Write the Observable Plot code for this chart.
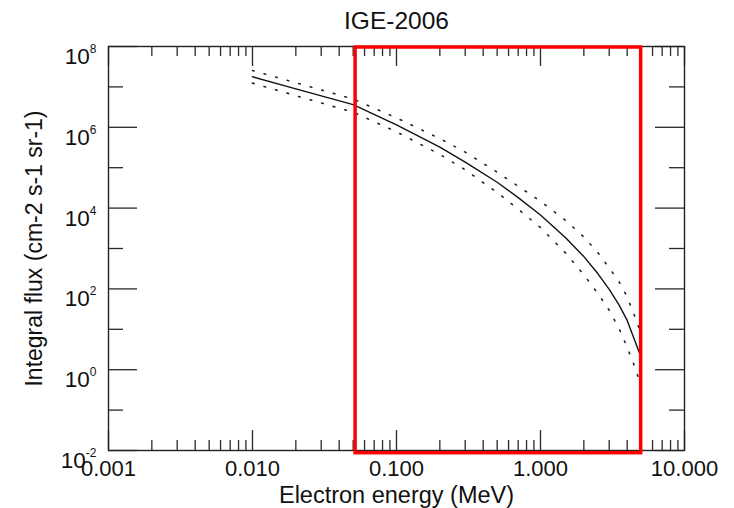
<!DOCTYPE html>
<html>
<head>
<meta charset="utf-8">
<script src="https://cdn.jsdelivr.net/npm/d3@7"></script>
<script src="https://cdn.jsdelivr.net/npm/@observablehq/plot@0.6"></script>
<style>
  html, body { margin: 0; padding: 0; background: #fff; }
  #chart { width: 734px; height: 508px; }
</style>
</head>
<body>
<div id="chart"></div>
<script>
// ---- Text ----
const chartTitle = "IGE-2006";
const xLabel = "Electron energy (MeV)";
const yLabel = "Integral flux (cm-2 s-1 sr-1)";

// ---- Data ----
const energyMean = [0.01, 0.02, 0.05, 0.1, 0.2, 0.3, 0.5, 0.7, 1, 1.5, 2, 2.5, 3, 3.5, 4, 5];
const fluxMean   = [1.78e7, 8.91e6, 3.63e6, 1.15e6, 3.24e5, 1.38e5, 4.37e4, 1.82e4, 6.76e3, 1.82e3, 631, 240, 97.7, 40.7, 16.6, 2.0];

const energyBand = [0.01, 0.02, 0.05, 0.1, 0.2, 0.3, 0.5, 0.7, 1, 1.5, 2, 2.5, 3, 3.5, 4, 4.5, 5];
const fluxUpper  = [2.55e7, 1.27e7, 5.01e6, 1.71e6, 5.25e5, 2.43e5, 7.74e4, 3.48e4, 1.48e4, 4.90e3, 1.93e3, 794, 332, 155, 63.1, 21.6, 7.6];
const fluxLower  = [1.24e7, 6.07e6, 2.37e6, 7.73e5, 2.13e5, 8.89e4, 2.42e4, 9.46e3, 3.29e3, 762, 224, 77.6, 29.6, 10.7, 3.57, 1.21, 0.40];

// ---- Axes ----
const xTickValues = [0.001, 0.01, 0.1, 1, 10];
const xTickLabels = ["0.001", "0.010", "0.100", "1.000", "10.000"];
const xMinorTicks = [
  0.002, 0.003, 0.004, 0.005, 0.006, 0.007, 0.008, 0.009,
  0.02, 0.03, 0.04, 0.05, 0.06, 0.07, 0.08, 0.09,
  0.2, 0.3, 0.4, 0.5, 0.6, 0.7, 0.8, 0.9,
  2, 3, 4, 5, 6, 7, 8, 9
];
const yMajorTicks = [1e-2, 1e0, 1e2, 1e4, 1e6, 1e8];
const yExponents  = ["-2", "0", "2", "4", "6", "8"];
const yMinorTicks = [1e-1, 1e1, 1e3, 1e5, 1e7];

// ---- Highlight box ----
const boxEnergy = [0.052, 5];
const boxFlux = [1e-2, 1e8];

// ---- Build ----
const W = 734, H = 508, mt = 46, mb = 58, ml = 108, mr = 50;
const ph = H - mt - mb, pw = W - ml - mr;

const meanData = energyMean.map((e, i) => ({e, f: fluxMean[i]}));
const bandData = energyBand.map((e, i) => ({e, hi: fluxUpper[i], lo: fluxLower[i]}));
const boxData = [{x1: boxEnergy[0], x2: boxEnergy[1], y1: boxFlux[0], y2: boxFlux[1]}];

const tickColor = "#2a2a2a";
const font = "'Liberation Sans', Arial, Helvetica, sans-serif";

const plot = Plot.plot({
  width: W, height: H,
  marginTop: mt, marginBottom: mb, marginLeft: ml, marginRight: mr,
  style: {fontFamily: font, fontSize: "22px", color: "#111", background: "#fff", overflow: "visible"},
  x: {type: "log", domain: [0.001, 10]},
  y: {type: "log", domain: [1e-2, 1e8]},
  marks: [
    Plot.axisX({ticks: xTickValues, tickFormat: d => xTickLabels[xTickValues.indexOf(d)], tickSize: 0, tickPadding: 10, label: null, fontSize: 22, fill: "#111"}),
    Plot.axisY({ticks: yMajorTicks, tickFormat: d => "10^" + yExponents[yMajorTicks.indexOf(d)], tickSize: 0, tickPadding: 12, label: null, fontSize: 22.5, fill: "#111"}),
    // inward ticks, bottom/top
    Plot.ruleX(xTickValues, {insetTop: ph - 20, stroke: tickColor, strokeWidth: 1.3}),
    Plot.ruleX(xTickValues, {insetBottom: ph - 20, stroke: tickColor, strokeWidth: 1.3}),
    Plot.ruleX(xMinorTicks, {insetTop: ph - 10, stroke: tickColor, strokeWidth: 1.3}),
    Plot.ruleX(xMinorTicks, {insetBottom: ph - 10, stroke: tickColor, strokeWidth: 1.3}),
    // inward ticks, left/right
    Plot.ruleY(yMajorTicks, {insetRight: pw - 29, stroke: tickColor, strokeWidth: 1.3}),
    Plot.ruleY(yMajorTicks, {insetLeft: pw - 29, stroke: tickColor, strokeWidth: 1.3}),
    Plot.ruleY(yMinorTicks, {insetRight: pw - 15, stroke: tickColor, strokeWidth: 1.3}),
    Plot.ruleY(yMinorTicks, {insetLeft: pw - 15, stroke: tickColor, strokeWidth: 1.3}),
    Plot.frame({stroke: "#222", strokeWidth: 1.4}),
    // curves
    Plot.line(bandData, {x: "e", y: "hi", stroke: "#222", strokeWidth: 1.6, strokeDasharray: "1.6 10.4"}),
    Plot.line(bandData, {x: "e", y: "lo", stroke: "#222", strokeWidth: 1.6, strokeDasharray: "1.6 10.4"}),
    Plot.line(meanData, {x: "e", y: "f", stroke: "#111", strokeWidth: 1.4}),
    // highlight box
    Plot.rect(boxData, {x1: "x1", x2: "x2", y1: "y1", y2: "y2", fill: "none", stroke: "#ff0000", strokeWidth: 3.5, insetTop: 1, insetBottom: -2.7}),
    // titles
    Plot.text([chartTitle], {text: d => d, frameAnchor: "top", textAnchor: "middle", dy: -17.7, lineAnchor: "bottom", fontSize: 24.5, fill: "#111"}),
    Plot.text([xLabel], {text: d => d, frameAnchor: "bottom", textAnchor: "middle", dy: 52.5, lineAnchor: "bottom", fontSize: 23.5, fill: "#111"}),
    Plot.text([yLabel], {text: d => d, frameAnchor: "left", textAnchor: "middle", dx: -66.3, rotate: -90, lineAnchor: "bottom", fontSize: 23, fill: "#111"})
  ]
});

// superscript exponents on the y-axis tick labels
plot.querySelectorAll('[aria-label="y-axis tick label"] text').forEach(t => {
  const parts = t.textContent.split("^");
  if (parts.length !== 2) return;
  t.textContent = parts[0];
  t.setAttribute("dy", "0.46em");
  const ts = document.createElementNS("http://www.w3.org/2000/svg", "tspan");
  ts.setAttribute("dy", "-11");
  ts.setAttribute("font-size", "12px");
  ts.textContent = parts[1];
  t.appendChild(ts);
});

document.getElementById("chart").appendChild(plot);
</script>
</body>
</html>
